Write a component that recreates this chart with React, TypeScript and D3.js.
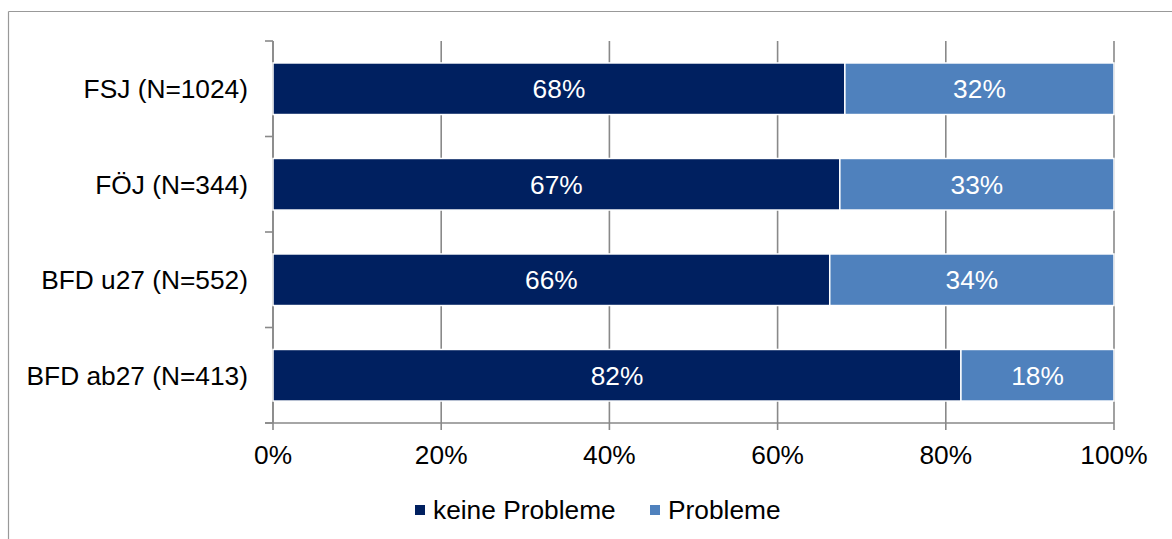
import React from "react";
import * as d3 from "d3";

const categories = ["FSJ (N=1024)", "FÖJ (N=344)", "BFD u27 (N=552)", "BFD ab27 (N=413)"];
const keineProbleme = [68.0, 67.4, 66.2, 81.8];
const probleme = [32.0, 32.6, 33.8, 18.2];
const seriesNames = ["keine Probleme", "Probleme"];
const xTicks = [0, 20, 40, 60, 80, 100];

const W = 1172;
const H = 539;
const COLORS = ["#002060", "#4F81BD"];
const GRID = "#898989";
const FONT = "'Liberation Sans', Arial, sans-serif";
const FS = 26.3;

export default function App() {
  const x = d3.scaleLinear().domain([0, 100]).range([273, 1114]);
  const y = d3.scaleBand<string>().domain(categories).range([41, 423]).paddingInner(0.46).paddingOuter(0.23);
  const yEdges = d3.range(categories.length + 1).map((i) => 41 + (i * (423 - 41)) / categories.length);

  const rows = categories.map((c, i) => {
    const stack = [
      { v: keineProbleme[i], x0: 0, x1: keineProbleme[i], color: COLORS[0] },
      { v: probleme[i], x0: keineProbleme[i], x1: keineProbleme[i] + probleme[i], color: COLORS[1] },
    ];
    return { c, stack };
  });

  return (
    <svg width={W} height={H} style={{ position: "absolute", left: 0, top: 0 }} fontFamily={FONT}>
      <rect x={0} y={0} width={W} height={H} fill="#fff" />
      <line x1={8.5} y1={11.5} x2={W + 10} y2={11.5} stroke="#999" strokeWidth={1.2} />
      <line x1={8.5} y1={11.5} x2={8.5} y2={H + 10} stroke="#999" strokeWidth={1.2} />

      {xTicks.map((t) => (
        <line key={"g" + t} x1={x(t)} x2={x(t)} y1={41} y2={430} stroke={GRID} strokeWidth={1.6} />
      ))}
      <line x1={x(0)} x2={x(0)} y1={41} y2={423} stroke={GRID} strokeWidth={1.6} />
      <line x1={265} x2={x(100)} y1={423} y2={423} stroke={GRID} strokeWidth={1.6} />
      {yEdges.map((yy, i) => (
        <line key={"yt" + i} x1={265} x2={x(0)} y1={yy} y2={yy} stroke={GRID} strokeWidth={1.6} />
      ))}

      {rows.map((r) => (
        <g key={r.c}>
          {r.stack.map((s, j) => (
            <g key={j}>
              <rect
                x={x(s.x0)}
                y={y(r.c)}
                width={x(s.x1) - x(s.x0)}
                height={y.bandwidth()}
                fill={s.color}
                stroke="#fff"
                strokeWidth={1.5}
              />
              <text
                x={(x(s.x0) + x(s.x1)) / 2}
                y={(y(r.c) as number) + y.bandwidth() / 2}
                dy="0.36em"
                textAnchor="middle"
                fill="#fff"
                fontSize={FS}
              >
                {Math.round(s.v)}%
              </text>
            </g>
          ))}
          <text
            x={248}
            y={(y(r.c) as number) + y.bandwidth() / 2}
            dy="0.36em"
            textAnchor="end"
            fill="#000"
            fontSize={FS}
          >
            {r.c}
          </text>
        </g>
      ))}

      {xTicks.map((t) => (
        <text key={"xl" + t} x={x(t)} y={464} textAnchor="middle" fontSize={FS} fill="#000">
          {t}%
        </text>
      ))}

      <rect x={415} y={505} width={10} height={10} fill={COLORS[0]} />
      <text x={433} y={519} fontSize={FS} fill="#000">{seriesNames[0]}</text>
      <rect x={650} y={505} width={10} height={10} fill={COLORS[1]} />
      <text x={668} y={519} fontSize={FS} fill="#000">{seriesNames[1]}</text>
    </svg>
  );
}
